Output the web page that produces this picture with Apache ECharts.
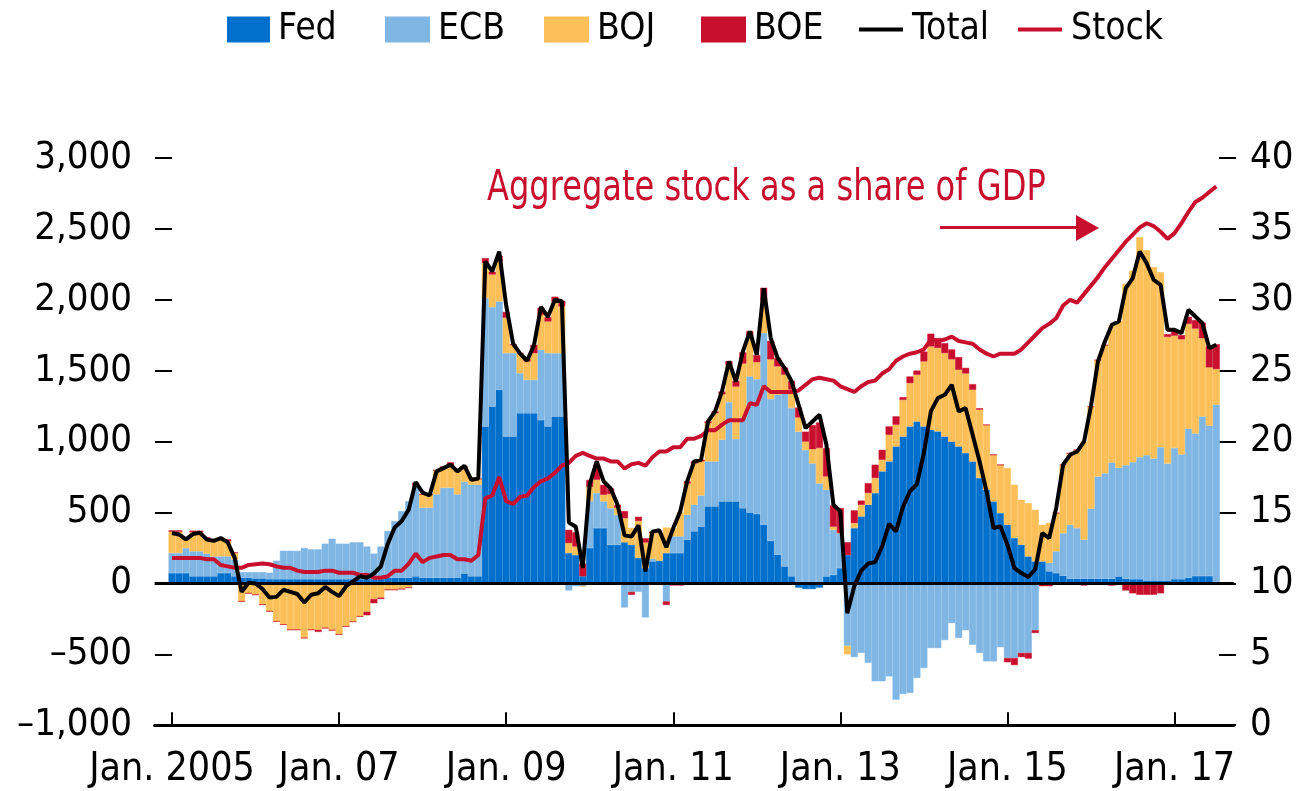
<!DOCTYPE html>
<html>
<head>
<meta charset="utf-8">
<script src="https://cdn.jsdelivr.net/npm/echarts@6/dist/echarts.min.js"></script>
<style>
  html, body { margin: 0; padding: 0; background: #fff; }
  #chart { width: 1304px; height: 791px; }
</style>
</head>
<body>
<div id="chart"></div>
<script>
// monthly flows, Jan 2005 .. Jul 2017 (one row per year)
var fed = [
  73, 73, 73, 50, 50, 50, 50, 73, 73, 50, 40, 40,
  35, 35, 30, 30, 30, 30, 30, 30, 30, 30, 30, 30,
  30, 30, 30, 30, 30, 30, 30, 40, 40, 40, 40, 50,
  40, 40, 40, 40, 40, 40, 70, 50, 50, 1107, 1248, 1365,
  1036, 1036, 1200, 1200, 1200, 1153, 1107, 1177, 1177, 214, 200, 50,
  250, 390, 390, 272, 272, 290, 272, 180, 108, 155, 160, 214,
  214, 214, 308, 367, 400, 543, 543, 578, 578, 578, 530, 500,
  490, 414, 300, 202, 120, 50, -30, -40, -40, -30, 49, 60,
  108, 200, 390, 472, 555, 637, 790, 860, 966, 1036, 1107, 1142,
  1107, 1083, 1072, 1036, 1000, 966, 920, 860, 743, 660, 578, 496,
  414, 320, 273, 190, 155, 155, 85, 73, 54, 33, 33, 33,
  33, 33, 33, 33, 49, 33, 30, 30, 20, 20, 20, 20,
  30, 30, 40, 52, 52, 52, 10
];
var ecb = [
  141, 141, 176, 176, 176, 160, 140, 118, 118, 117, 40, 40,
  45, 45, 45, 130, 200, 200, 200, 220, 210, 210, 250, 285,
  250, 250, 260, 260, 230, 180, 230, 330, 400, 470, 540, 640,
  494, 494, 588, 634, 634, 588, 646, 646, 646, 905, 700, 623,
  588, 588, 282, 235, 235, 494, 517, 446, 446, -50, -20, -20,
  330, 247, 188, 258, 211, -170, -60, -60, -240, 20, 0, -127,
  118, 118, 176, 188, 220, 317, 317, 435, 700, 440, 640, 960,
  950, 1351, 1000, 1128, 1222, 1187, 1070, 940, 846, 705, 611, 317,
  247, -440, -520, -490, -560, -690, -690, -656, -820, -780, -773, -667,
  -597, -456, -456, -400, -280, -385, -330, -432, -491, -550, -550, -450,
  -526, -526, -490, -490, -330, 0, 60, 153, 300, 380, 357, 275,
  494, 720, 743, 820, 767, 800, 825, 860, 884, 860, 940, 825,
  925, 880, 1050, 1005, 1125, 1060, 1250
];
var boj = [
  150, 150, 60, 136, 136, 110, 115, 120, 105, 47, -127, -70,
  -80, -150, -197, -268, -290, -327, -327, -385, -327, -327, -315, -330,
  -360, -303, -270, -233, -200, -110, -100, -45, -45, -40, -30, 0,
  94, 94, 170, 141, 160, 165, 90, 47, 40, 247, 230, 282,
  250, 60, 141, 130, 188, 247, 223, 364, 330, 70, 60, 0,
  100, 94, 47, 100, 50, 170, 120, 260, 180, 180, 200, 180,
  58, 170, 220, 290, 240, 270, 340, 320, 260, 370, 380, 270,
  120, 230, 280, 200, 130, 130, 100, 60, 100, 250, 94, 23,
  0, -60, 35, 82, 82, 106, 82, 188, 153, 258, 305, 329,
  458, 588, 588, 588, 580, 540, 560, 505, 482, 458, 329, 340,
  400, 376, 317, 376, 364, 258, 282, 270, 482, 505, 552, 693,
  720, 822, 905, 968, 1034, 1280, 1350, 1551, 1445, 1351, 1234, 893,
  792, 811, 740, 740, 552, 411, 251
];
var boe = [
  10, 10, 0, 10, 10, 5, 10, 5, 15, 5, 0, 0,
  0, 0, 0, 0, 0, 0, 0, 0, 0, -15, 0, 0,
  0, 0, 0, 0, -25, -30, -10, 0, 0, 0, 0, 20,
  0, 0, 0, 10, 20, 0, 20, 0, 0, 35, 20, 40,
  40, 0, 0, 20, 60, 50, 30, 35, 40, 94, 100, 90,
  50, 105, 70, 40, 20, 50, -20, 30, 30, 10, -10, -25,
  -15, -15, 16, 15, 12, 12, 13, 20, 30, 40, 80, 50,
  50, 90, 130, 60, 50, 60, 70, 70, 170, 180, 200, 150,
  176, 90, 90, 30, 70, 94, 70, 59, 59, 20, 47, 30,
  70, 90, 70, 70, 70, 90, 40, 40, 10, 0, 0, 0,
  -30, -50, -30, -40, -20, -20, -20, 0, 0, 0, 0, -15,
  0, 0, 0, -15, -10, -50, -70, -80, -80, -80, -70, 20,
  35, 30, 50, 60, 110, 150, 176
];
var total = [
  355, 345, 310, 348, 357, 310, 300, 320, 290, 180, -60, 5,
  0, -40, -100, -95, -45, -60, -75, -135, -80, -70, -25, -60,
  -90, -20, 15, 50, 40, 70, 120, 280, 395, 440, 520, 715,
  640, 620, 790, 813, 837, 790, 830, 730, 740, 2270, 2200, 2340,
  1960, 1690, 1620, 1570, 1680, 1950, 1880, 2000, 1990, 430, 400, 110,
  700, 860, 720, 670, 555, 340, 330, 410, 85, 365, 375, 255,
  390, 508, 720, 860, 872, 1142, 1213, 1354, 1565, 1424, 1636, 1777,
  1612, 2082, 1730, 1589, 1518, 1424, 1260, 1095, 1142, 1189, 978, 555,
  508, -210, -20, 90, 140, 150, 260, 420, 367, 540, 650, 700,
  920, 1213, 1307, 1330, 1400, 1213, 1236, 1048, 860, 649, 390, 402,
  273, 108, 73, 45, 100, 355, 320, 531, 837, 907, 930, 1000,
  1250, 1565, 1706, 1824, 1847, 2082, 2153, 2341, 2258, 2141, 2106, 1788,
  1788, 1765, 1930, 1882, 1835, 1659, 1683
];
// aggregate stock, percent of GDP (right axis)
var stock = [
  11.8, 11.8, 11.8, 11.8, 11.8, 11.7, 11.7, 11.3, 11.2, 11.1, 11.1, 11.3,
  11.35, 11.4, 11.35, 11.2, 11.1, 11.1, 10.9, 10.8, 10.8, 10.8, 10.9, 10.9,
  10.75, 10.75, 10.75, 10.6, 10.6, 10.4, 10.4, 10.5, 10.9, 10.9, 11.4, 12.1,
  11.5, 11.8, 11.9, 12.0, 12.0, 11.7, 11.7, 11.6, 12.0, 16.0, 16.2, 17.5,
  15.8, 15.6, 16.1, 16.2, 16.8, 17.2, 17.4, 17.8, 18.3, 18.5, 19.0, 19.2,
  19.0, 18.8, 18.8, 18.6, 18.6, 18.1, 18.4, 18.5, 18.3, 18.9, 19.3, 19.3,
  19.6, 19.6, 20.2, 20.2, 20.4, 20.8, 20.8, 21.2, 21.5, 21.5, 21.5, 22.7,
  22.6, 23.9, 23.5, 23.5, 23.5, 23.5, 23.6, 24.0, 24.4, 24.5, 24.4, 24.3,
  23.9, 23.7, 23.5, 23.9, 24.2, 24.3, 24.8, 25.1, 25.7, 26.0, 26.2, 26.3,
  26.5, 27.2, 27.1, 27.2, 27.4, 27.1, 27.0, 26.9, 26.5, 26.2, 26.0, 26.2,
  26.2, 26.2, 26.5, 27.0, 27.5, 28.0, 28.3, 28.7, 29.6, 30.0, 29.8, 30.4,
  31.0, 31.6, 32.3, 32.9, 33.5, 34.1, 34.6, 35.1, 35.4, 35.2, 34.8, 34.3,
  34.7, 35.4, 36.2, 36.9, 37.2, 37.6, 38.0
];

var tickMonths = ['2005-01', '2007-01', '2009-01', '2011-01', '2013-01', '2015-01', '2017-01'];
var tickLabels = ['Jan. 2005', 'Jan. 07', 'Jan. 09', 'Jan. 11', 'Jan. 13', 'Jan. 15', 'Jan. 17'];

var FONT = '"Liberation Sans Narrow", "DejaVu Sans Condensed", sans-serif';
var RED = '#C8102E';

// two empty months each side so the axis line runs past the bars
var padBefore = 2, padAfter = 2;
var categories = [];
for (var i = 0; i < padBefore + fed.length + padAfter; i++) {
  var mm = 10 + i; // starts Nov 2004
  var yr = 2004 + Math.floor(mm / 12);
  var mo = (mm % 12) + 1;
  categories.push(yr + '-' + (mo < 10 ? '0' + mo : mo));
}
function padded(arr) {
  var out = [];
  for (var k = 0; k < padBefore; k++) out.push(null);
  out = out.concat(arr);
  for (var k2 = 0; k2 < padAfter; k2++) out.push(null);
  return out;
}
function isTick(idx, val) {
  return tickMonths.indexOf(categories[idx]) >= 0;
}
function fmtLeft(v) {
  var s = Math.abs(v).toString().replace(/\B(?=(\d{3})+(?!\d))/g, ',');
  return v < 0 ? '\u2013' + s : s;
}

function barSeries(name, data, color) {
  return {
    name: name,
    type: 'bar',
    stack: 'cb',
    data: padded(data),
    barCategoryGap: '0%',
    itemStyle: { color: color, borderColor: color, borderWidth: 0.5 },
    emphasis: { disabled: true },
    z: 1
  };
}

// one legend box per entry, so each sits where the original has it
var LINE_ICON = 'path://M0,0 H44 V4 H0 Z';
function legendAt(name, left, width, icon) {
  return {
    left: left,
    top: 11,
    padding: 0,
    itemWidth: width,
    itemHeight: 24,
    icon: icon,
    textStyle: { fontFamily: FONT, fontSize: 37, color: '#000', padding: [0, 0, 0, 4] },
    data: [name]
  };
}

var chart = echarts.init(document.getElementById('chart'));
chart.setOption({
  animation: false,
  backgroundColor: '#fff',
  textStyle: { fontFamily: FONT },
  legend: [
    legendAt('Fed', 227, 41, 'rect'),
    legendAt('ECB', 385, 43, 'rect'),
    legendAt('BOJ', 544, 43, 'rect'),
    legendAt('BOE', 701, 43, 'rect'),
    legendAt('Total', 859, 44, LINE_ICON),
    legendAt('Stock', 1018, 44, LINE_ICON)
  ],
  grid: { left: 154.6, right: 70.3, top: 158, bottom: 65.8 },
  xAxis: {
    type: 'category',
    data: categories,
    boundaryGap: true,
    axisLine: { show: true, onZero: false, lineStyle: { color: '#000', width: 3 } },
    axisTick: { show: true, inside: true, alignWithLabel: true, length: 13, interval: isTick,
                lineStyle: { color: '#000', width: 2 } },
    axisLabel: {
      interval: isTick,
      margin: 25,
      fontFamily: FONT,
      fontSize: 39,
      color: '#000',
      formatter: function (val) { return tickLabels[tickMonths.indexOf(val)]; }
    },
    splitLine: { show: false }
  },
  yAxis: [
    {
      type: 'value',
      min: -1000, max: 3000, interval: 500,
      position: 'left',
      offset: -17.4,
      axisLine: { show: false },
      axisTick: { show: true, length: 17, lineStyle: { color: '#000', width: 2 } },
      axisLabel: { margin: 40, fontFamily: FONT, fontSize: 38, color: '#000', formatter: fmtLeft },
      splitLine: { show: false }
    },
    {
      type: 'value',
      min: 0, max: 40, interval: 5,
      position: 'right',
      offset: -14.7,
      axisLine: { show: false },
      axisTick: { show: true, length: 17, lineStyle: { color: '#000', width: 2 } },
      axisLabel: { margin: 31, fontFamily: FONT, fontSize: 38, color: '#000' },
      splitLine: { show: false }
    }
  ],
  series: [
    barSeries('Fed', fed, '#0070CC'),
    barSeries('ECB', ecb, '#7FB6E4'),
    barSeries('BOJ', boj, '#FDBF57'),
    barSeries('BOE', boe, RED),
    {
      name: 'Total',
      type: 'line',
      data: padded(total),
      symbol: 'none',
      lineStyle: { color: '#000', width: 4 },
      itemStyle: { color: '#000' },
      z: 4,
      markLine: {
        silent: true,
        symbol: 'none',
        label: { show: false },
        lineStyle: { color: '#000', width: 3, type: 'solid' },
        data: [{ yAxis: 0 }]
      }
    },
    {
      name: 'Stock',
      type: 'line',
      yAxisIndex: 1,
      data: padded(stock),
      symbol: 'none',
      lineStyle: { color: RED, width: 4 },
      itemStyle: { color: RED },
      z: 3
    }
  ],
  graphic: [
    {
      type: 'text',
      x: 487,
      y: 168,
      scaleX: 0.85,
      style: { text: 'Aggregate stock as a share of GDP', fill: RED, font: '42px ' + FONT }
    },
    {
      type: 'line',
      shape: { x1: 940, y1: 227.5, x2: 1080, y2: 227.5 },
      style: { stroke: RED, lineWidth: 3 }
    },
    {
      type: 'polygon',
      shape: { points: [[1076, 215], [1099, 228], [1076, 241]] },
      style: { fill: RED }
    }
  ]
});
</script>
</body>
</html>
